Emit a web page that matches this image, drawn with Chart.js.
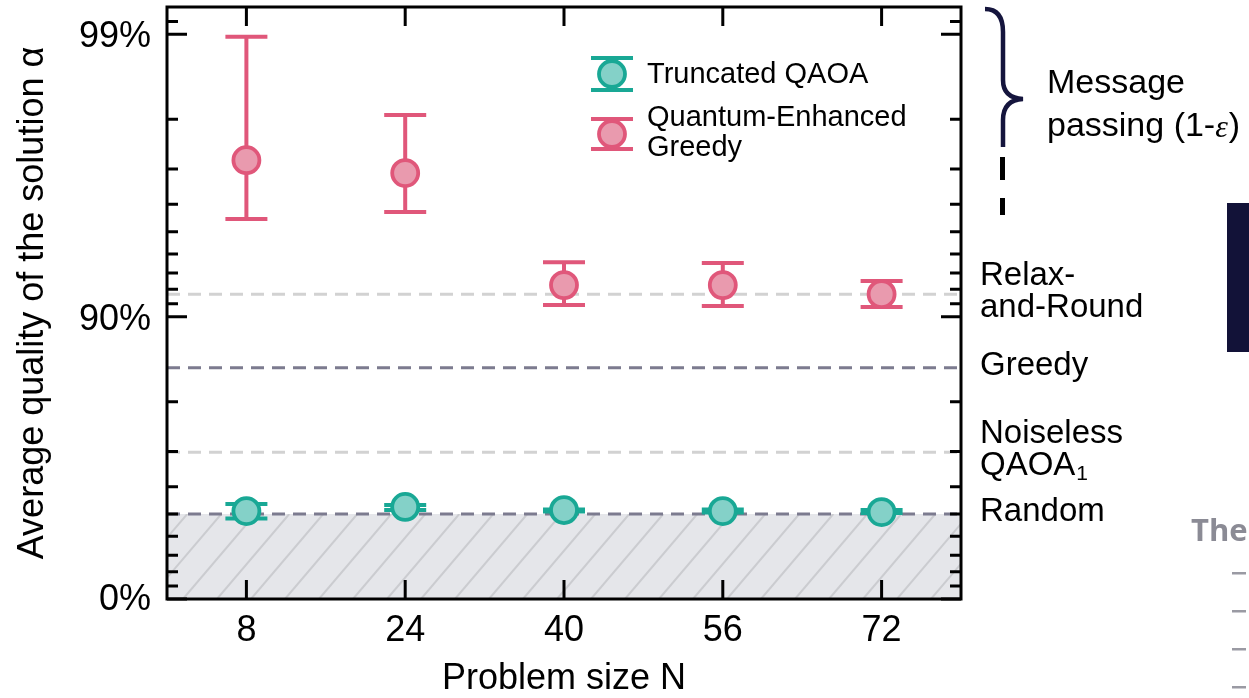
<!DOCTYPE html>
<html>
<head>
<meta charset="utf-8">
<script src="https://cdn.jsdelivr.net/npm/chart.js@4/dist/chart.umd.min.js"></script>
<style>
  html, body { margin: 0; padding: 0; background: #ffffff; }
  #wrap { width: 1249px; height: 698px; position: relative; }
</style>
</head>
<body>
<div id="wrap"><canvas id="c" width="1249" height="698"></canvas></div>
<script>
// ---------------- data ----------------
const problemSizes = [8, 24, 40, 56, 72];

const qaoaQuality = [0.512, 0.528, 0.516, 0.512, 0.508];
const qaoaLower   = [0.481, 0.516, 0.510, 0.506, 0.504];
const qaoaUpper   = [0.539, 0.535, 0.518, 0.518, 0.516];

const qegQuality = [0.9721, 0.9690, 0.9227, 0.9227, 0.9168];
const qegLower   = [0.9549, 0.9574, 0.9090, 0.9083, 0.9075];
const qegUpper   = [0.9898, 0.9807, 0.9359, 0.9354, 0.9252];

const refNames  = ['Relax-and-Round', 'Greedy', 'Noiseless QAOA1', 'Random'];
const refValues = [0.9167, 0.8484, 0.698, 0.500];

const yMajorTicks = [0, 0.90, 0.99];
const yTickLabels = ['0%', '90%', '99%'];
const yMinorTicks = [0.1, 0.2, 0.3, 0.4, 0.5, 0.6, 0.7, 0.8,
                     0.91, 0.92, 0.93, 0.94, 0.95, 0.96, 0.97, 0.98, 0.991];
const xTickValues = [8, 24, 40, 56, 72];

const seriesNames = ['Truncated QAOA', 'Quantum-Enhanced Greedy'];

// ---------------- styling ----------------
const FONT = "'Liberation Sans', Arial, Helvetica, sans-serif";
const TEAL = '#19a895', TEAL_FILL = '#84d1c8';
const PINK = '#e0577a', PINK_FILL = '#e99aae';

// The axis shows 1 - quality on a reversed log scale.
const gap = q => 1 - q;

const decorations = {
  id: 'decorations',
  beforeDatasetsDraw(chart) {
    const { ctx, chartArea: a, scales: { x, y } } = chart;
    ctx.save();
    // hatched "below random" region
    const yr = y.getPixelForValue(gap(refValues[3]));
    ctx.fillStyle = '#e5e6ea';
    ctx.fillRect(a.left, yr, a.right - a.left, a.bottom - yr);
    ctx.save();
    ctx.beginPath();
    ctx.rect(a.left, yr, a.right - a.left, a.bottom - yr);
    ctx.clip();
    ctx.strokeStyle = '#cbccd0';
    ctx.lineWidth = 2;
    const h = a.bottom - yr, dx = h * 0.85;
    for (let x0 = a.left - 120; x0 < a.right + 40; x0 += 34) {
      ctx.beginPath();
      ctx.moveTo(x0, a.bottom);
      ctx.lineTo(x0 + dx, yr);
      ctx.stroke();
    }
    ctx.restore();

    // reference dashed lines
    const refColors = ['#d2d2d2', '#7c7b8f', '#d2d2d2', '#7c7b8f'];
    ctx.lineWidth = 3;
    ctx.setLineDash([13, 8]);
    refValues.forEach((v, i) => {
      const py = y.getPixelForValue(gap(v));
      ctx.strokeStyle = refColors[i];
      ctx.beginPath();
      ctx.moveTo(a.left, py);
      ctx.lineTo(a.right, py);
      ctx.stroke();
    });
    ctx.setLineDash([]);

    // error bars
    const drawErr = (lo, hi, color) => {
      ctx.strokeStyle = color;
      ctx.lineWidth = 4;
      problemSizes.forEach((n, i) => {
        const px = x.getPixelForValue(n);
        const p1 = y.getPixelForValue(gap(lo[i]));
        const p2 = y.getPixelForValue(gap(hi[i]));
        ctx.beginPath();
        ctx.moveTo(px, p1); ctx.lineTo(px, p2);
        ctx.moveTo(px - 21, p1); ctx.lineTo(px + 21, p1);
        ctx.moveTo(px - 21, p2); ctx.lineTo(px + 21, p2);
        ctx.stroke();
      });
    };
    drawErr(qaoaLower, qaoaUpper, TEAL);
    drawErr(qegLower, qegUpper, PINK);
    ctx.restore();
  },
  afterDraw(chart) {
    const { ctx, chartArea: a, scales: { x, y } } = chart;
    ctx.save();
    // frame
    ctx.strokeStyle = '#000';
    ctx.lineWidth = 3;
    ctx.strokeRect(a.left, a.top, a.right - a.left, a.bottom - a.top);
    // inward ticks
    ctx.beginPath();
    xTickValues.forEach(v => {
      const px = x.getPixelForValue(v);
      ctx.moveTo(px, a.bottom); ctx.lineTo(px, a.bottom - 19);
      ctx.moveTo(px, a.top); ctx.lineTo(px, a.top + 19);
    });
    yMajorTicks.forEach(v => {
      const py = y.getPixelForValue(gap(v));
      ctx.moveTo(a.left, py); ctx.lineTo(a.left + 20, py);
      ctx.moveTo(a.right, py); ctx.lineTo(a.right - 20, py);
    });
    yMinorTicks.forEach(v => {
      const py = y.getPixelForValue(gap(v));
      ctx.moveTo(a.left, py); ctx.lineTo(a.left + 11, py);
      ctx.moveTo(a.right, py); ctx.lineTo(a.right - 11, py);
    });
    ctx.stroke();

    // y tick labels
    ctx.fillStyle = '#000';
    ctx.font = `36px ${FONT}`;
    ctx.textAlign = 'right';
    ctx.textBaseline = 'middle';
    yMajorTicks.forEach((v, i) => {
      const py = y.getPixelForValue(gap(v));
      ctx.fillText(yTickLabels[i], 151, py + (i === 0 ? 1 : 3));
    });

    // legend
    const legendMark = (cx, cy, stroke, fill, half) => {
      ctx.strokeStyle = stroke;
      ctx.lineWidth = 4;
      ctx.beginPath();
      ctx.moveTo(cx, cy - half); ctx.lineTo(cx, cy + half);
      ctx.moveTo(cx - 21, cy - half); ctx.lineTo(cx + 21, cy - half);
      ctx.moveTo(cx - 21, cy + half); ctx.lineTo(cx + 21, cy + half);
      ctx.stroke();
      ctx.beginPath();
      ctx.arc(cx, cy, 13, 0, Math.PI * 2);
      ctx.fillStyle = fill; ctx.fill();
      ctx.lineWidth = 3.8; ctx.strokeStyle = stroke; ctx.stroke();
    };
    legendMark(612, 74, TEAL, TEAL_FILL, 16);
    legendMark(612, 134, PINK, PINK_FILL, 15);
    ctx.fillStyle = '#000';
    ctx.font = `29px ${FONT}`;
    ctx.textAlign = 'left';
    ctx.fillText(seriesNames[0], 647, 75);
    ctx.fillText('Quantum-Enhanced', 647, 118);
    ctx.fillText('Greedy', 647, 148);

    // right-side reference labels
    ctx.font = `33px ${FONT}`;
    ctx.fillText('Relax-', 980, 276);
    ctx.fillText('and-Round', 980, 308);
    ctx.fillText('Greedy', 980, 366);
    ctx.fillText('Noiseless', 980, 434);
    ctx.fillText('QAOA', 980, 466);
    const wq = ctx.measureText('QAOA').width;
    ctx.font = `21px ${FONT}`;
    ctx.fillText('1', 980 + wq + 1, 474);
    ctx.font = `33px ${FONT}`;
    ctx.fillText('Random', 980, 512);

    // message passing brace
    ctx.strokeStyle = '#15153d';
    ctx.lineWidth = 4.5;
    ctx.lineCap = 'butt';
    ctx.beginPath();
    ctx.moveTo(985, 9);
    ctx.quadraticCurveTo(1003, 9, 1003, 32);
    ctx.lineTo(1003, 80);
    ctx.quadraticCurveTo(1003, 98, 1023, 99);
    ctx.quadraticCurveTo(1003, 100, 1003, 120);
    ctx.lineTo(1003, 147);
    ctx.stroke();
    ctx.fillStyle = '#000';
    ctx.fillRect(1000, 157, 5, 23);
    ctx.fillRect(1000, 198, 5, 17);

    ctx.font = `34px ${FONT}`;
    ctx.fillText('Message', 1047, 84);
    const pre = 'passing (1-';
    ctx.fillText(pre, 1047, 127);
    let wx = 1047 + ctx.measureText(pre).width;
    ctx.font = `italic 32px 'Liberation Serif', 'DejaVu Serif', serif`;
    ctx.fillText('\u03b5', wx, 129);
    wx += ctx.measureText('\u03b5').width + 1;
    ctx.font = `34px ${FONT}`;
    ctx.fillText(')', wx, 127);

    // slide fragments at the right edge
    ctx.fillStyle = '#121238';
    ctx.fillRect(1227, 203, 22, 149);
    ctx.fillStyle = '#8b8b95';
    ctx.font = `bold 31px 'Open Sans', ${FONT}`;
    ctx.fillText('The', 1191, 532);
    ctx.fillStyle = '#9a9aa3';
    [573, 611, 649, 687].forEach(py => ctx.fillRect(1232, py - 1, 14, 2.5));
    ctx.restore();
  }
};

const toPoints = vals => problemSizes.map((n, i) => ({ x: n, y: gap(vals[i]) }));

new Chart(document.getElementById('c'), {
  type: 'scatter',
  data: {
    datasets: [
      { label: seriesNames[0], data: toPoints(qaoaQuality), pointRadius: 13, pointHoverRadius: 13,
        borderWidth: 3.8, borderColor: TEAL, backgroundColor: TEAL_FILL, showLine: false },
      { label: seriesNames[1], data: toPoints(qegQuality), pointRadius: 13, pointHoverRadius: 13,
        borderWidth: 3.8, borderColor: PINK, backgroundColor: PINK_FILL, showLine: false }
    ]
  },
  options: {
    responsive: false,
    animation: false,
    layout: { autoPadding: false, padding: { top: 7, right: 288, left: 0, bottom: 0 } },
    plugins: { legend: { display: false }, tooltip: { enabled: false } },
    scales: {
      x: {
        type: 'linear', min: 0, max: 80,
        grid: { display: false, drawTicks: false },
        border: { display: false },
        afterBuildTicks: s => { s.ticks = xTickValues.map(v => ({ value: v })); },
        ticks: { font: { family: FONT, size: 36 }, color: '#000', padding: 10, autoSkip: false, maxRotation: 0 },
        title: { display: true, text: 'Problem size N', color: '#000',
                 font: { family: FONT, size: 36, lineHeight: 1.0 }, padding: { top: 0, bottom: 1 } },
        afterFit: s => { s.height = 99; }
      },
      y: {
        type: 'logarithmic', reverse: true, min: 0.008, max: 1,
        grid: { display: false, drawTicks: false },
        border: { display: false },
        ticks: { display: false },
        title: { display: true, text: 'Average quality of the solution \u03b1', color: '#000',
                 font: { family: FONT, size: 36 }, padding: { top: 11, bottom: 0 } },
        afterFit: s => { s.width = 167; }
      }
    }
  },
  plugins: [decorations]
});
</script>
</body>
</html>
